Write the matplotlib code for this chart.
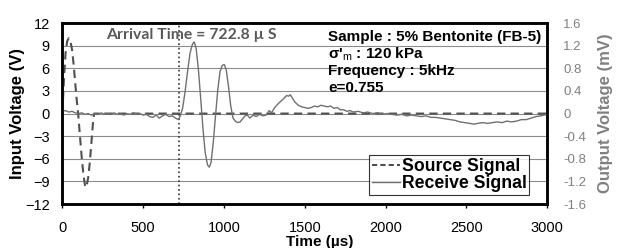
import matplotlib
matplotlib.use("Agg")
import matplotlib.pyplot as plt
from matplotlib.lines import Line2D

plt.rcParams['font.family'] = ['Liberation Sans', 'DejaVu Sans']
plt.rcParams['mathtext.fontset'] = 'custom'
plt.rcParams['mathtext.rm'] = 'Liberation Sans'
plt.rcParams['mathtext.bf'] = 'Liberation Sans:bold'

# Source signal (input voltage, V)
source_t = [0, 10, 20, 30, 40, 50, 60, 70, 80, 90, 98, 110, 120, 130, 140, 145,
            150, 160, 170, 180, 190, 197, 210, 230, 3000]
source_v = [0, 4.5, 8.0, 9.6, 10.0, 9.6, 8.5, 6.5, 4.0, 1.6, 0, -3.2, -5.8, -8.0,
            -9.5, -9.8, -9.6, -8.5, -6.5, -3.8, -1.2, 0, 0, 0, 0]

# Receive signal (output voltage, mV)
receive_t = [0, 20, 40, 60, 80, 100, 120, 140, 160, 180, 200, 220, 240, 260, 280,
             300, 320, 340, 360, 380, 400, 420, 440, 460, 480, 500, 520, 540, 560,
             580, 600, 620, 640, 660, 680, 700, 718, 730, 745, 760, 775, 790, 805,
             816, 828, 842, 856, 870, 884, 898, 909, 920, 934, 948, 962, 976, 990,
             1002, 1014, 1028, 1042, 1056, 1070, 1085, 1100, 1115, 1130, 1145, 1160,
             1180, 1200, 1220, 1240, 1260, 1280, 1295, 1310, 1330, 1350, 1370, 1388,
             1400, 1410, 1425, 1440, 1460, 1480, 1500, 1520, 1540, 1560, 1580, 1600,
             1620, 1640, 1660, 1680, 1700, 1720, 1740, 1760, 1780, 1800, 1830, 1860,
             1890, 1920, 1950, 1980, 2010, 2040, 2070, 2100, 2130, 2160, 2190, 2220,
             2250, 2280, 2310, 2340, 2370, 2400, 2430, 2460, 2490, 2520, 2545, 2570,
             2600, 2630, 2660, 2690, 2720, 2750, 2780, 2810, 2840, 2870, 2900, 2930,
             2960, 3000]
receive_mv = [0.040, 0.053, 0.027, 0.040, 0.013, 0.0, 0.013, -0.013, 0.0, -0.027,
              0.0, -0.013, 0.013, -0.013, 0.0, -0.013, 0.013, -0.013, 0.0, -0.027,
              0.0, -0.013, 0.013, -0.013, 0.0, -0.027, -0.013, -0.053, -0.067, -0.027,
              -0.080, -0.040, -0.013, -0.053, -0.040, -0.080, -0.107, -0.040, 0.107,
              0.400, 0.747, 1.067, 1.227, 1.267, 1.147, 0.773, 0.267, -0.267, -0.693,
              -0.907, -0.947, -0.867, -0.507, -0.027, 0.427, 0.747, 0.853, 0.867,
              0.773, 0.480, 0.133, -0.080, -0.133, -0.160, -0.147, -0.093, -0.040,
              -0.027, -0.080, -0.027, -0.053, -0.013, -0.040, -0.027, 0.053, 0.013,
              0.093, 0.160, 0.213, 0.267, 0.320, 0.307, 0.333, 0.267, 0.200, 0.147,
              0.120, 0.107, 0.093, 0.107, 0.133, 0.120, 0.147, 0.133, 0.120, 0.133,
              0.093, 0.107, 0.067, 0.067, 0.040, 0.053, 0.027, 0.040, 0.013, 0.027,
              0.0, 0.013, -0.013, 0.0, -0.013, -0.027, -0.013, -0.040, -0.027, -0.040,
              -0.053, -0.040, -0.067, -0.067, -0.080, -0.093, -0.107, -0.120, -0.147,
              -0.160, -0.173, -0.187, -0.173, -0.160, -0.173, -0.160, -0.147, -0.160,
              -0.133, -0.147, -0.133, -0.107, -0.107, -0.080, -0.053, -0.040, -0.013]

arrival_time = 722.8
x_ticks = [0, 500, 1000, 1500, 2000, 2500, 3000]
left_ticks = [-12, -9, -6, -3, 0, 3, 6, 9, 12]
right_ticks = [-1.6, -1.2, -0.8, -0.4, 0, 0.4, 0.8, 1.2, 1.6]
info_lines = ["Sample : 5% Bentonite (FB-5)", "σ'$_\\mathrm{m}$ : 120 kPa",
              "Frequency : 5kHz", "e=0.755"]

fig = plt.figure(figsize=(6.17, 2.48), dpi=100)
ax = fig.add_axes([0.101, 0.177, 0.786, 0.730])
ax2 = ax.twinx()

ax.set_xlim(0, 3000)
ax.set_ylim(-12, 12)
ax2.set_ylim(-1.6, 1.6)
ax.set_xticks(x_ticks)
ax.set_yticks(left_ticks)
ax2.set_yticks(right_ticks)
ax2.set_yticklabels([f"{v:g}" for v in right_ticks])

ax.yaxis.grid(True, color='#8c8c8c', linewidth=0.8)
ax.set_axisbelow(True)

ax.plot(source_t, source_v, color='#505050', linestyle=(0, (4, 2.5)), linewidth=1.5, zorder=3)
ax2.plot(receive_t, receive_mv, color='#707070', linewidth=1.0, zorder=2)
ax.axvline(arrival_time, color='#333333', linestyle=':', linewidth=1.2, zorder=2)

for sp in ax.spines.values():
    sp.set_linewidth(1.8)
for sp in ax2.spines.values():
    sp.set_linewidth(1.8)

ax.tick_params(axis='x', direction='out', length=3, width=1, labelsize=10.5, pad=9)
ax.tick_params(axis='y', direction='out', length=0, labelsize=10.5, pad=9)
ax2.tick_params(axis='y', direction='out', length=0, labelsize=9.5, pad=11.5,
                labelcolor='#808080')

ax.set_xlabel("Time (µs)", fontsize=11, fontweight='bold', va='top')
ax.xaxis.set_label_coords(0.531, -0.168)
ax.set_ylabel("Input Voltage (V)", fontsize=12, fontweight='bold')
ax.yaxis.set_label_coords(-0.077, 0.5)
ax2.set_ylabel("Output Voltage (mV)", fontsize=12, fontweight='bold', color='#808080')
ax2.yaxis.set_label_coords(1.105, 0.5)

ax.text(796, 10.4, "Arrival Time = 722.8 µ S", fontsize=11.3, fontweight='bold',
        color='#595959', family=['Lato', 'DejaVu Sans'], ha='center', va='center')

for i, line in enumerate(info_lines):
    ax.text(1644, 10.15 - i * 2.25, line, fontsize=11, fontweight='bold',
            ha='left', va='center', zorder=5)

handles = [Line2D([], [], color='#505050', linestyle=(0, (2.5, 1.5)), linewidth=1.5),
           Line2D([], [], color='#707070', linewidth=1.0)]
leg = ax2.legend(handles, ["Source Signal", "Receive Signal"], loc='lower right',
                 bbox_to_anchor=(0.963, 0.05), fontsize=12.7, frameon=True,
                 fancybox=False, handlelength=1.6, handletextpad=0.1,
                 borderpad=0.15, labelspacing=0.02, borderaxespad=0)
leg.get_frame().set_edgecolor('black')
leg.get_frame().set_linewidth(0.8)
for t in leg.get_texts():
    t.set_fontweight('bold')

fig.savefig("out.png", dpi=100)
